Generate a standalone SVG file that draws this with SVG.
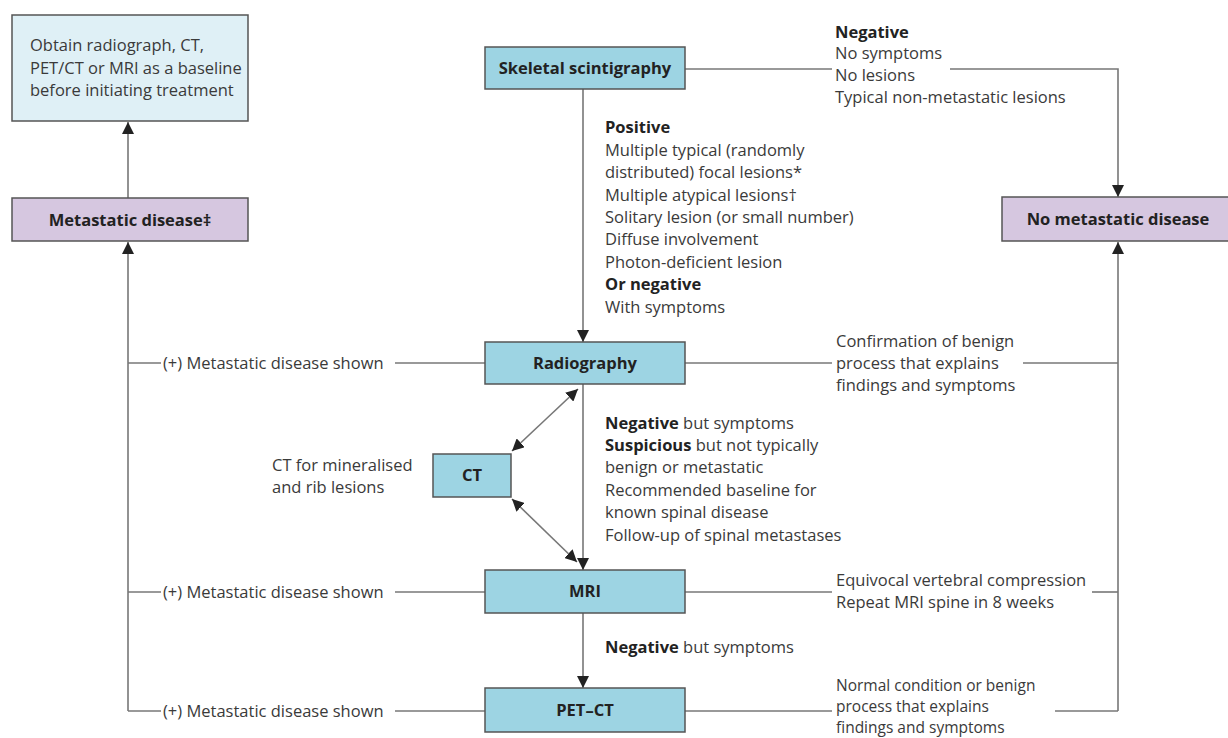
<svg xmlns="http://www.w3.org/2000/svg" width="1228" height="738" viewBox="0 0 1228 738">
<style>
  text { font-family: "Open Sans", "Liberation Sans", Arial, sans-serif; font-size: 16.5px; fill: #3a3a3a; }
  .b { font-weight: bold; fill: #222; }
  .lbl { font-weight: bold; fill: #222; text-anchor: middle; }
  .sm { font-size: 15.5px; }
  .blue { fill: #9dd4e3; stroke: #555; stroke-width: 1.5; }
  .pale { fill: #dff0f6; stroke: #555; stroke-width: 1.5; }
  .lav { fill: #d6c7e0; stroke: #555; stroke-width: 1.5; }
  .ln { fill: none; stroke: #777; stroke-width: 1.6; }
</style>
<defs>
  <marker id="ah" markerUnits="userSpaceOnUse" markerWidth="12" markerHeight="12" viewBox="0 0 12 12" refX="12" refY="6" orient="auto-start-reverse">
    <path d="M0,0 L12,6 L0,12 z" fill="#222"/>
  </marker>
</defs>

<g id="connectors">
  <line class="ln" x1="128" y1="198" x2="128" y2="122" marker-end="url(#ah)"/>
  <path class="ln" d="M128,711 L128,242" marker-end="url(#ah)"/>
  <line class="ln" x1="128" y1="363" x2="161" y2="363"/>
  <line class="ln" x1="395" y1="363" x2="485" y2="363"/>
  <line class="ln" x1="128" y1="592" x2="161" y2="592"/>
  <line class="ln" x1="395" y1="592" x2="485" y2="592"/>
  <line class="ln" x1="128" y1="711" x2="161" y2="711"/>
  <line class="ln" x1="395" y1="711" x2="485" y2="711"/>
  <line class="ln" x1="685" y1="69" x2="832" y2="69"/>
  <path class="ln" d="M950,69 L1118,69 L1118,197" marker-end="url(#ah)"/>
  <path class="ln" d="M1118,711 L1118,242" marker-end="url(#ah)"/>
  <line class="ln" x1="685" y1="363" x2="832" y2="363"/>
  <line class="ln" x1="1023" y1="363" x2="1118" y2="363"/>
  <line class="ln" x1="685" y1="592" x2="832" y2="592"/>
  <line class="ln" x1="1092" y1="592" x2="1118" y2="592"/>
  <line class="ln" x1="685" y1="711" x2="832" y2="711"/>
  <line class="ln" x1="1055" y1="711" x2="1118" y2="711"/>
  <line class="ln" x1="583" y1="89" x2="583" y2="342" marker-end="url(#ah)"/>
  <line class="ln" x1="583" y1="384" x2="583" y2="570" marker-end="url(#ah)"/>
  <line class="ln" x1="583" y1="613" x2="583" y2="688" marker-end="url(#ah)"/>
  <line class="ln" x1="578" y1="389" x2="512" y2="451" marker-start="url(#ah)" marker-end="url(#ah)"/>
  <line class="ln" x1="512" y1="499" x2="577" y2="562" marker-start="url(#ah)" marker-end="url(#ah)"/>
</g>

<g id="node-obtain">
  <rect class="pale" x="12" y="15" width="236" height="106"/>
  <text x="30" y="51">Obtain radiograph, CT,</text>
  <text x="30" y="74">PET/CT or MRI as a baseline</text>
  <text x="30" y="96">before initiating treatment</text>
</g>

<g id="node-metastatic">
  <rect class="lav" x="12" y="198" width="236" height="43"/>
  <text class="lbl" x="130" y="226">Metastatic disease‡</text>
</g>

<g id="node-scintigraphy">
  <rect class="blue" x="485" y="47" width="200" height="42"/>
  <text class="lbl" x="585" y="74">Skeletal scintigraphy</text>
</g>

<g id="node-nometastatic">
  <rect class="lav" x="1002" y="197" width="240" height="44"/>
  <text class="lbl" x="1118" y="225">No metastatic disease</text>
</g>

<g id="node-radiography">
  <rect class="blue" x="485" y="342" width="200" height="42"/>
  <text class="lbl" x="585" y="369">Radiography</text>
</g>

<g id="node-ct">
  <rect class="blue" x="433" y="454" width="78" height="43"/>
  <text class="lbl" x="472" y="481">CT</text>
</g>

<g id="node-mri">
  <rect class="blue" x="485" y="570" width="200" height="43"/>
  <text class="lbl" x="585" y="597">MRI</text>
</g>

<g id="node-petct">
  <rect class="blue" x="485" y="688" width="200" height="44"/>
  <text class="lbl" x="585" y="716">PET–CT</text>
</g>

<g id="labels">
  <text class="b" x="835" y="38">Negative</text>
  <text x="835" y="59">No symptoms</text>
  <text x="835" y="81">No lesions</text>
  <text x="835" y="103">Typical non-metastatic lesions</text>

  <text class="b" x="605" y="133">Positive</text>
  <text x="605" y="156">Multiple typical (randomly</text>
  <text x="605" y="178">distributed) focal lesions*</text>
  <text x="605" y="201">Multiple atypical lesions†</text>
  <text x="605" y="223">Solitary lesion (or small number)</text>
  <text x="605" y="245">Diffuse involvement</text>
  <text x="605" y="268">Photon-deficient lesion</text>
  <text class="b" x="605" y="290">Or negative</text>
  <text x="605" y="313">With symptoms</text>

  <text x="163" y="369">(+) Metastatic disease shown</text>
  <text x="163" y="598">(+) Metastatic disease shown</text>
  <text x="163" y="717">(+) Metastatic disease shown</text>

  <text x="836" y="347">Confirmation of benign</text>
  <text x="836" y="369">process that explains</text>
  <text x="836" y="391">findings and symptoms</text>

  <text x="272" y="471">CT for mineralised</text>
  <text x="272" y="493">and rib lesions</text>

  <text x="605" y="429"><tspan class="b">Negative</tspan> but symptoms</text>
  <text x="605" y="451"><tspan class="b">Suspicious</tspan> but not typically</text>
  <text x="605" y="473">benign or metastatic</text>
  <text x="605" y="496">Recommended baseline for</text>
  <text x="605" y="518">known spinal disease</text>
  <text x="605" y="541">Follow-up of spinal metastases</text>

  <text x="836" y="586">Equivocal vertebral compression</text>
  <text x="836" y="608">Repeat MRI spine in 8 weeks</text>

  <text x="605" y="653"><tspan class="b">Negative</tspan> but symptoms</text>

  <text class="sm" x="836" y="691">Normal condition or benign</text>
  <text class="sm" x="836" y="712">process that explains</text>
  <text class="sm" x="836" y="733">findings and symptoms</text>
</g>
</svg>
